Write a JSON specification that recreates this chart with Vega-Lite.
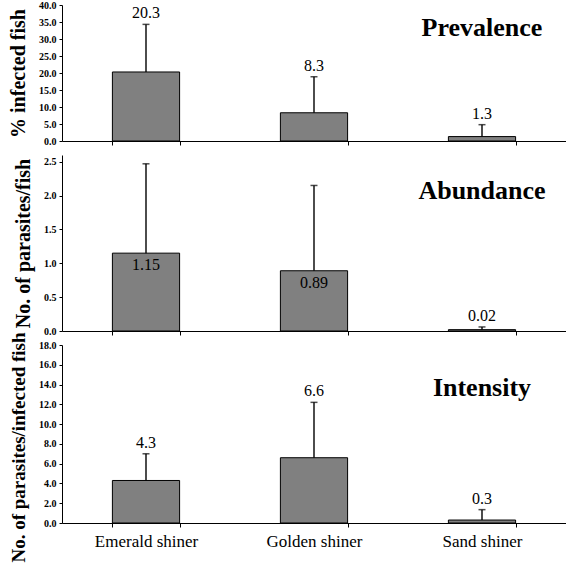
{
  "$schema": "https://vega.github.io/schema/vega-lite/v6.json",
  "padding": {"left": 8, "top": 0, "right": 0, "bottom": 0},
  "spacing": 14,
  "bounds": "flush",
  "config": {
    "view": {"stroke": null},
    "font": "Liberation Serif",
    "text": {"font": "Liberation Serif"},
    "axis": {
      "domainColor": "black", "tickColor": "black", "labelColor": "black", "titleColor": "black",
      "labelFont": "Liberation Serif", "titleFont": "Liberation Serif", "grid": false, "labelOverlap": false
    },
    "axisY": {
      "labelFontWeight": "bold", "labelFontSize": 10, "tickSize": 3, "labelPadding": 3,
      "titleFontSize": 20, "titleFontWeight": "bold", "titlePadding": 10, "format": ".1f"
    },
    "axisX": {"tickBand": "extent", "tickSize": 4, "labelAngle": 0}
  },
  "datasets": {
    "prev": [
      {"species": "Emerald shiner", "mean": 20.3, "err": 34.3, "label": "20.3"},
      {"species": "Golden shiner", "mean": 8.3, "err": 18.9, "label": "8.3"},
      {"species": "Sand shiner", "mean": 1.3, "err": 4.8, "label": "1.3"}
    ],
    "abun": [
      {"species": "Emerald shiner", "mean": 1.15, "err": 2.47, "label": "1.15"},
      {"species": "Golden shiner", "mean": 0.89, "err": 2.15, "label": "0.89"},
      {"species": "Sand shiner", "mean": 0.02, "err": 0.06, "label": "0.02"}
    ],
    "inten": [
      {"species": "Emerald shiner", "mean": 4.3, "err": 7.0, "label": "4.3"},
      {"species": "Golden shiner", "mean": 6.6, "err": 12.2, "label": "6.6"},
      {"species": "Sand shiner", "mean": 0.3, "err": 1.35, "label": "0.3"}
    ]
  },
  "vconcat": [
    {
      "width": 504, "height": 136,
      "data": {"name": "prev"},
      "encoding": {
        "x": {"field": "species", "type": "nominal", "sort": null,
              "scale": {"paddingInner": 0.6, "paddingOuter": 0.3},
              "axis": {"title": null, "labels": false}}
      },
      "layer": [
        {"mark": {"type": "bar", "fill": "#808080", "stroke": "black", "strokeWidth": 1},
         "encoding": {"y": {"field": "mean", "type": "quantitative",
           "scale": {"domain": [0, 40], "nice": false},
           "axis": {"title": "% infected fish", "values": [0,5,10,15,20,25,30,35,40]}}}},
        {"mark": {"type": "rule", "color": "black", "strokeWidth": 1.4},
         "encoding": {"y": {"field": "mean", "type": "quantitative", "axis": {"title": "% infected fish", "values": [0,5,10,15,20,25,30,35,40]}}, "y2": {"field": "err"}}},
        {"mark": {"type": "tick", "color": "black", "size": 7, "thickness": 1.5},
         "encoding": {"y": {"field": "err", "type": "quantitative", "axis": {"title": "% infected fish", "values": [0,5,10,15,20,25,30,35,40]}}}},
        {"mark": {"type": "text", "dy": -11, "fontSize": 16},
         "encoding": {"y": {"field": "err", "type": "quantitative", "axis": {"title": "% infected fish", "values": [0,5,10,15,20,25,30,35,40]}}, "text": {"field": "label"}}},
        {"data": {"values": [{"name": "Prevalence"}]},
         "mark": {"type": "text", "fontSize": 26, "fontWeight": "bold"},
         "encoding": {"x": {"datum": "Sand shiner"}, "y": {"datum": 33.2, "axis": {"title": "% infected fish", "values": [0,5,10,15,20,25,30,35,40]}}, "text": {"field": "name"}}}
      ]
    },
    {
      "width": 504, "height": 176,
      "data": {"name": "abun"},
      "encoding": {
        "x": {"field": "species", "type": "nominal", "sort": null,
              "scale": {"paddingInner": 0.6, "paddingOuter": 0.3},
              "axis": {"title": null, "labels": false}}
      },
      "layer": [
        {"mark": {"type": "bar", "fill": "#808080", "stroke": "black", "strokeWidth": 1},
         "encoding": {"y": {"field": "mean", "type": "quantitative",
           "scale": {"domain": [0, 2.6], "nice": false},
           "axis": {"title": "No. of parasites/fish", "values": [0,0.5,1,1.5,2,2.5]}}}},
        {"mark": {"type": "rule", "color": "black", "strokeWidth": 1.4},
         "encoding": {"y": {"field": "mean", "type": "quantitative", "axis": {"title": "No. of parasites/fish", "values": [0,0.5,1,1.5,2,2.5]}}, "y2": {"field": "err"}}},
        {"mark": {"type": "tick", "color": "black", "size": 7, "thickness": 1.5},
         "encoding": {"y": {"field": "err", "type": "quantitative", "axis": {"title": "No. of parasites/fish", "values": [0,0.5,1,1.5,2,2.5]}}}},
        {"transform": [{"filter": "datum.mean > 0.5"}],
         "mark": {"type": "text", "dy": 12, "fontSize": 16},
         "encoding": {"y": {"field": "mean", "type": "quantitative", "axis": {"title": "No. of parasites/fish", "values": [0,0.5,1,1.5,2,2.5]}}, "text": {"field": "label"}}},
        {"transform": [{"filter": "datum.mean <= 0.5"}],
         "mark": {"type": "text", "dy": -11, "fontSize": 16},
         "encoding": {"y": {"field": "err", "type": "quantitative", "axis": {"title": "No. of parasites/fish", "values": [0,0.5,1,1.5,2,2.5]}}, "text": {"field": "label"}}},
        {"data": {"values": [{"name": "Abundance"}]},
         "mark": {"type": "text", "fontSize": 26, "fontWeight": "bold"},
         "encoding": {"x": {"datum": "Sand shiner"}, "y": {"datum": 2.07, "axis": {"title": "No. of parasites/fish", "values": [0,0.5,1,1.5,2,2.5]}}, "text": {"field": "name"}}}
      ]
    },
    {
      "width": 504, "height": 178,
      "data": {"name": "inten"},
      "encoding": {
        "x": {"field": "species", "type": "nominal", "sort": null,
              "scale": {"paddingInner": 0.6, "paddingOuter": 0.3},
              "axis": {"title": null, "labelFontSize": 17, "labelPadding": 6}}
      },
      "layer": [
        {"mark": {"type": "bar", "fill": "#808080", "stroke": "black", "strokeWidth": 1},
         "encoding": {"y": {"field": "mean", "type": "quantitative",
           "scale": {"domain": [0, 18], "nice": false},
           "axis": {"title": "No. of parasites/infected fish", "titleFontSize": 19, "titleY": 102, "values": [0,2,4,6,8,10,12,14,16,18]}}}},
        {"mark": {"type": "rule", "color": "black", "strokeWidth": 1.4},
         "encoding": {"y": {"field": "mean", "type": "quantitative", "axis": {"title": "No. of parasites/infected fish", "titleFontSize": 19, "titleY": 102, "values": [0,2,4,6,8,10,12,14,16,18]}}, "y2": {"field": "err"}}},
        {"mark": {"type": "tick", "color": "black", "size": 7, "thickness": 1.5},
         "encoding": {"y": {"field": "err", "type": "quantitative", "axis": {"title": "No. of parasites/infected fish", "titleFontSize": 19, "titleY": 102, "values": [0,2,4,6,8,10,12,14,16,18]}}}},
        {"mark": {"type": "text", "dy": -11, "fontSize": 16},
         "encoding": {"y": {"field": "err", "type": "quantitative", "axis": {"title": "No. of parasites/infected fish", "titleFontSize": 19, "titleY": 102, "values": [0,2,4,6,8,10,12,14,16,18]}}, "text": {"field": "label"}}},
        {"data": {"values": [{"name": "Intensity"}]},
         "mark": {"type": "text", "fontSize": 26, "fontWeight": "bold"},
         "encoding": {"x": {"datum": "Sand shiner"}, "y": {"datum": 13.7, "axis": {"title": "No. of parasites/infected fish", "titleFontSize": 19, "titleY": 102, "values": [0,2,4,6,8,10,12,14,16,18]}}, "text": {"field": "name"}}}
      ]
    }
  ]
}
